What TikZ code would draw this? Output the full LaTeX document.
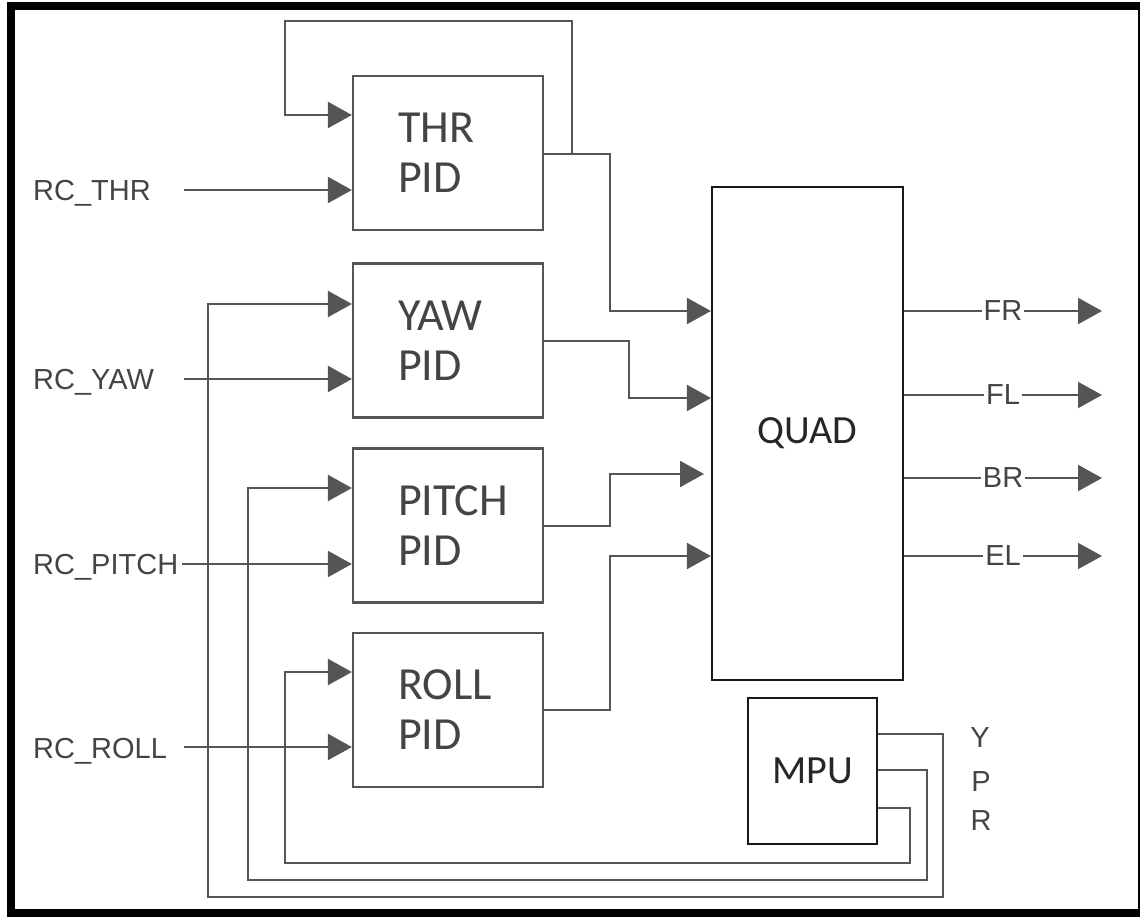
\documentclass[tikz,border=0pt]{standalone}
\usepackage{fontspec}
\setmainfont{Liberation Sans}
\newfontfamily\boxfont{Carlito}
\usetikzlibrary{arrows.meta}
\definecolor{ln}{HTML}{555555}
\definecolor{tx}{HTML}{444444}
\begin{document}
\begin{tikzpicture}[x=1pt,y=-1pt,
  pidbox/.style={draw=ln,line width=2.2pt,minimum width=190pt,minimum height=154pt,
    inner xsep=45pt,inner ysep=0pt,text width=100pt,align=left,
    font=\boxfont\fontsize{46}{50}\selectfont,text=tx},
  blkbox/.style={draw=black!90,line width=2.2pt,inner sep=0pt,
    font=\boxfont\fontsize{40}{44}\selectfont,text=black!85},
  lbl/.style={font=\fontsize{29}{30}\selectfont,text=tx,inner sep=0pt},
  wire/.style={draw=ln,line width=2.2pt},
  arr/.style={wire,-{Triangle[length=24pt,width=26pt]}},
  outlbl/.style={lbl,fill=white,inner xsep=2pt}
]
\useasboundingbox (0,0) rectangle (1140,917);
\begin{scope}
\clip (0,0) rectangle (1140,917);
\draw[line width=8pt] (11,6.5) rectangle (1142,913);
\end{scope}

% blocks
\node[pidbox] (thr)   at (448,153)   {THR\\PID};
\node[pidbox] (yaw)   at (448,340.5) {YAW\\PID};
\node[pidbox] (pitch) at (448,525.5) {PITCH\\PID};
\node[pidbox] (roll)  at (448,710)   {ROLL\\PID};
\node[blkbox,minimum width=191pt,minimum height=493pt] (quad) at (807.5,433.5) {QUAD};
\node[blkbox,minimum width=129pt,minimum height=146pt] (mpu) at (812.5,771) {MPU};

% input labels
\node[lbl,anchor=base west] (rcthr)   at (33,200.5) {RC\_THR};
\node[lbl,anchor=base west] (rcyaw)   at (33,389.5) {RC\_YAW};
\node[lbl,anchor=base west] (rcpitch) at (33,574.5) {RC\_PITCH};
\node[lbl,anchor=base west] (rcroll)  at (33,758)   {RC\_ROLL};

% input wires
\coordinate (ithr) at (184,190);
\coordinate (iyaw) at (184,379);
\coordinate (ipitch) at (182,564);
\coordinate (iroll) at (184,747);
\draw[arr] (ithr) -- (thr.west |- ithr);
\draw[arr] (iyaw) -- (yaw.west |- iyaw);
\draw[arr] (ipitch) -- (pitch.west |- ipitch);
\draw[arr] (iroll) -- (roll.west |- iroll);

% THR self feedback
\coordinate (tf1) at (572,154);
\coordinate (tf2) at (572,21);
\coordinate (tf3) at (285,21);
\coordinate (tf4) at (285,115);
\draw[arr] (tf1) -- (tf2) -- (tf3) -- (tf4) -- (thr.west |- tf4);

% PID outputs to QUAD
\coordinate (to1) at (543,154);
\coordinate (to2) at (610,154);
\coordinate (to3) at (610,311);
\draw[arr] (thr.east |- to1) -- (to2) -- (to3) -- (quad.west |- to3);
\coordinate (yo1) at (543,341);
\coordinate (yo2) at (629,341);
\coordinate (yo3) at (629,398);
\draw[arr] (yaw.east |- yo1) -- (yo2) -- (yo3) -- (quad.west |- yo3);
\coordinate (po1) at (543,526);
\coordinate (po2) at (610,526);
\coordinate (po3) at (610,474);
\coordinate (po4) at (704,474);
\draw[arr] (pitch.east |- po1) -- (po2) -- (po3) -- (po4);
\coordinate (ro1) at (543,710);
\coordinate (ro2) at (610,710);
\coordinate (ro3) at (610,556);
\draw[arr] (roll.east |- ro1) -- (ro2) -- (ro3) -- (quad.west |- ro3);

% QUAD outputs
\coordinate (fr) at (1102,311);
\coordinate (fl) at (1102,395);
\coordinate (br) at (1102,478);
\coordinate (el) at (1102,556);
\draw[arr] (quad.east |- fr) -- node[outlbl,pos=0.5] (lfr) {FR} (fr);
\draw[arr] (quad.east |- fl) -- node[outlbl,pos=0.5] (lfl) {FL} (fl);
\draw[arr] (quad.east |- br) -- node[outlbl,pos=0.5] (lbr) {BR} (br);
\draw[arr] (quad.east |- el) -- node[outlbl,pos=0.5] (lel) {EL} (el);

% MPU feedback
\coordinate (y1) at (877,734);
\coordinate (y2) at (943,734);
\coordinate (y3) at (943,897);
\coordinate (y4) at (208,897);
\coordinate (y5) at (208,304);
\draw[arr] (mpu.east |- y1) -- (y2) -- (y3) -- (y4) -- (y5) -- (yaw.west |- y5);
\coordinate (p1) at (877,770);
\coordinate (p2) at (927,770);
\coordinate (p3) at (927,880);
\coordinate (p4) at (248,880);
\coordinate (p5) at (248,488);
\draw[arr] (mpu.east |- p1) -- (p2) -- (p3) -- (p4) -- (p5) -- (pitch.west |- p5);
\coordinate (r1) at (877,808);
\coordinate (r2) at (910,808);
\coordinate (r3) at (910,863);
\coordinate (r4) at (285,863);
\coordinate (r5) at (285,672);
\draw[arr] (mpu.east |- r1) -- (r2) -- (r3) -- (r4) -- (r5) -- (roll.west |- r5);

\node[lbl] (ly) at (980,738) {Y};
\node[lbl] (lp) at (981,782) {P};
\node[lbl] (lr) at (981,821) {R};
\end{tikzpicture}
\end{document}
